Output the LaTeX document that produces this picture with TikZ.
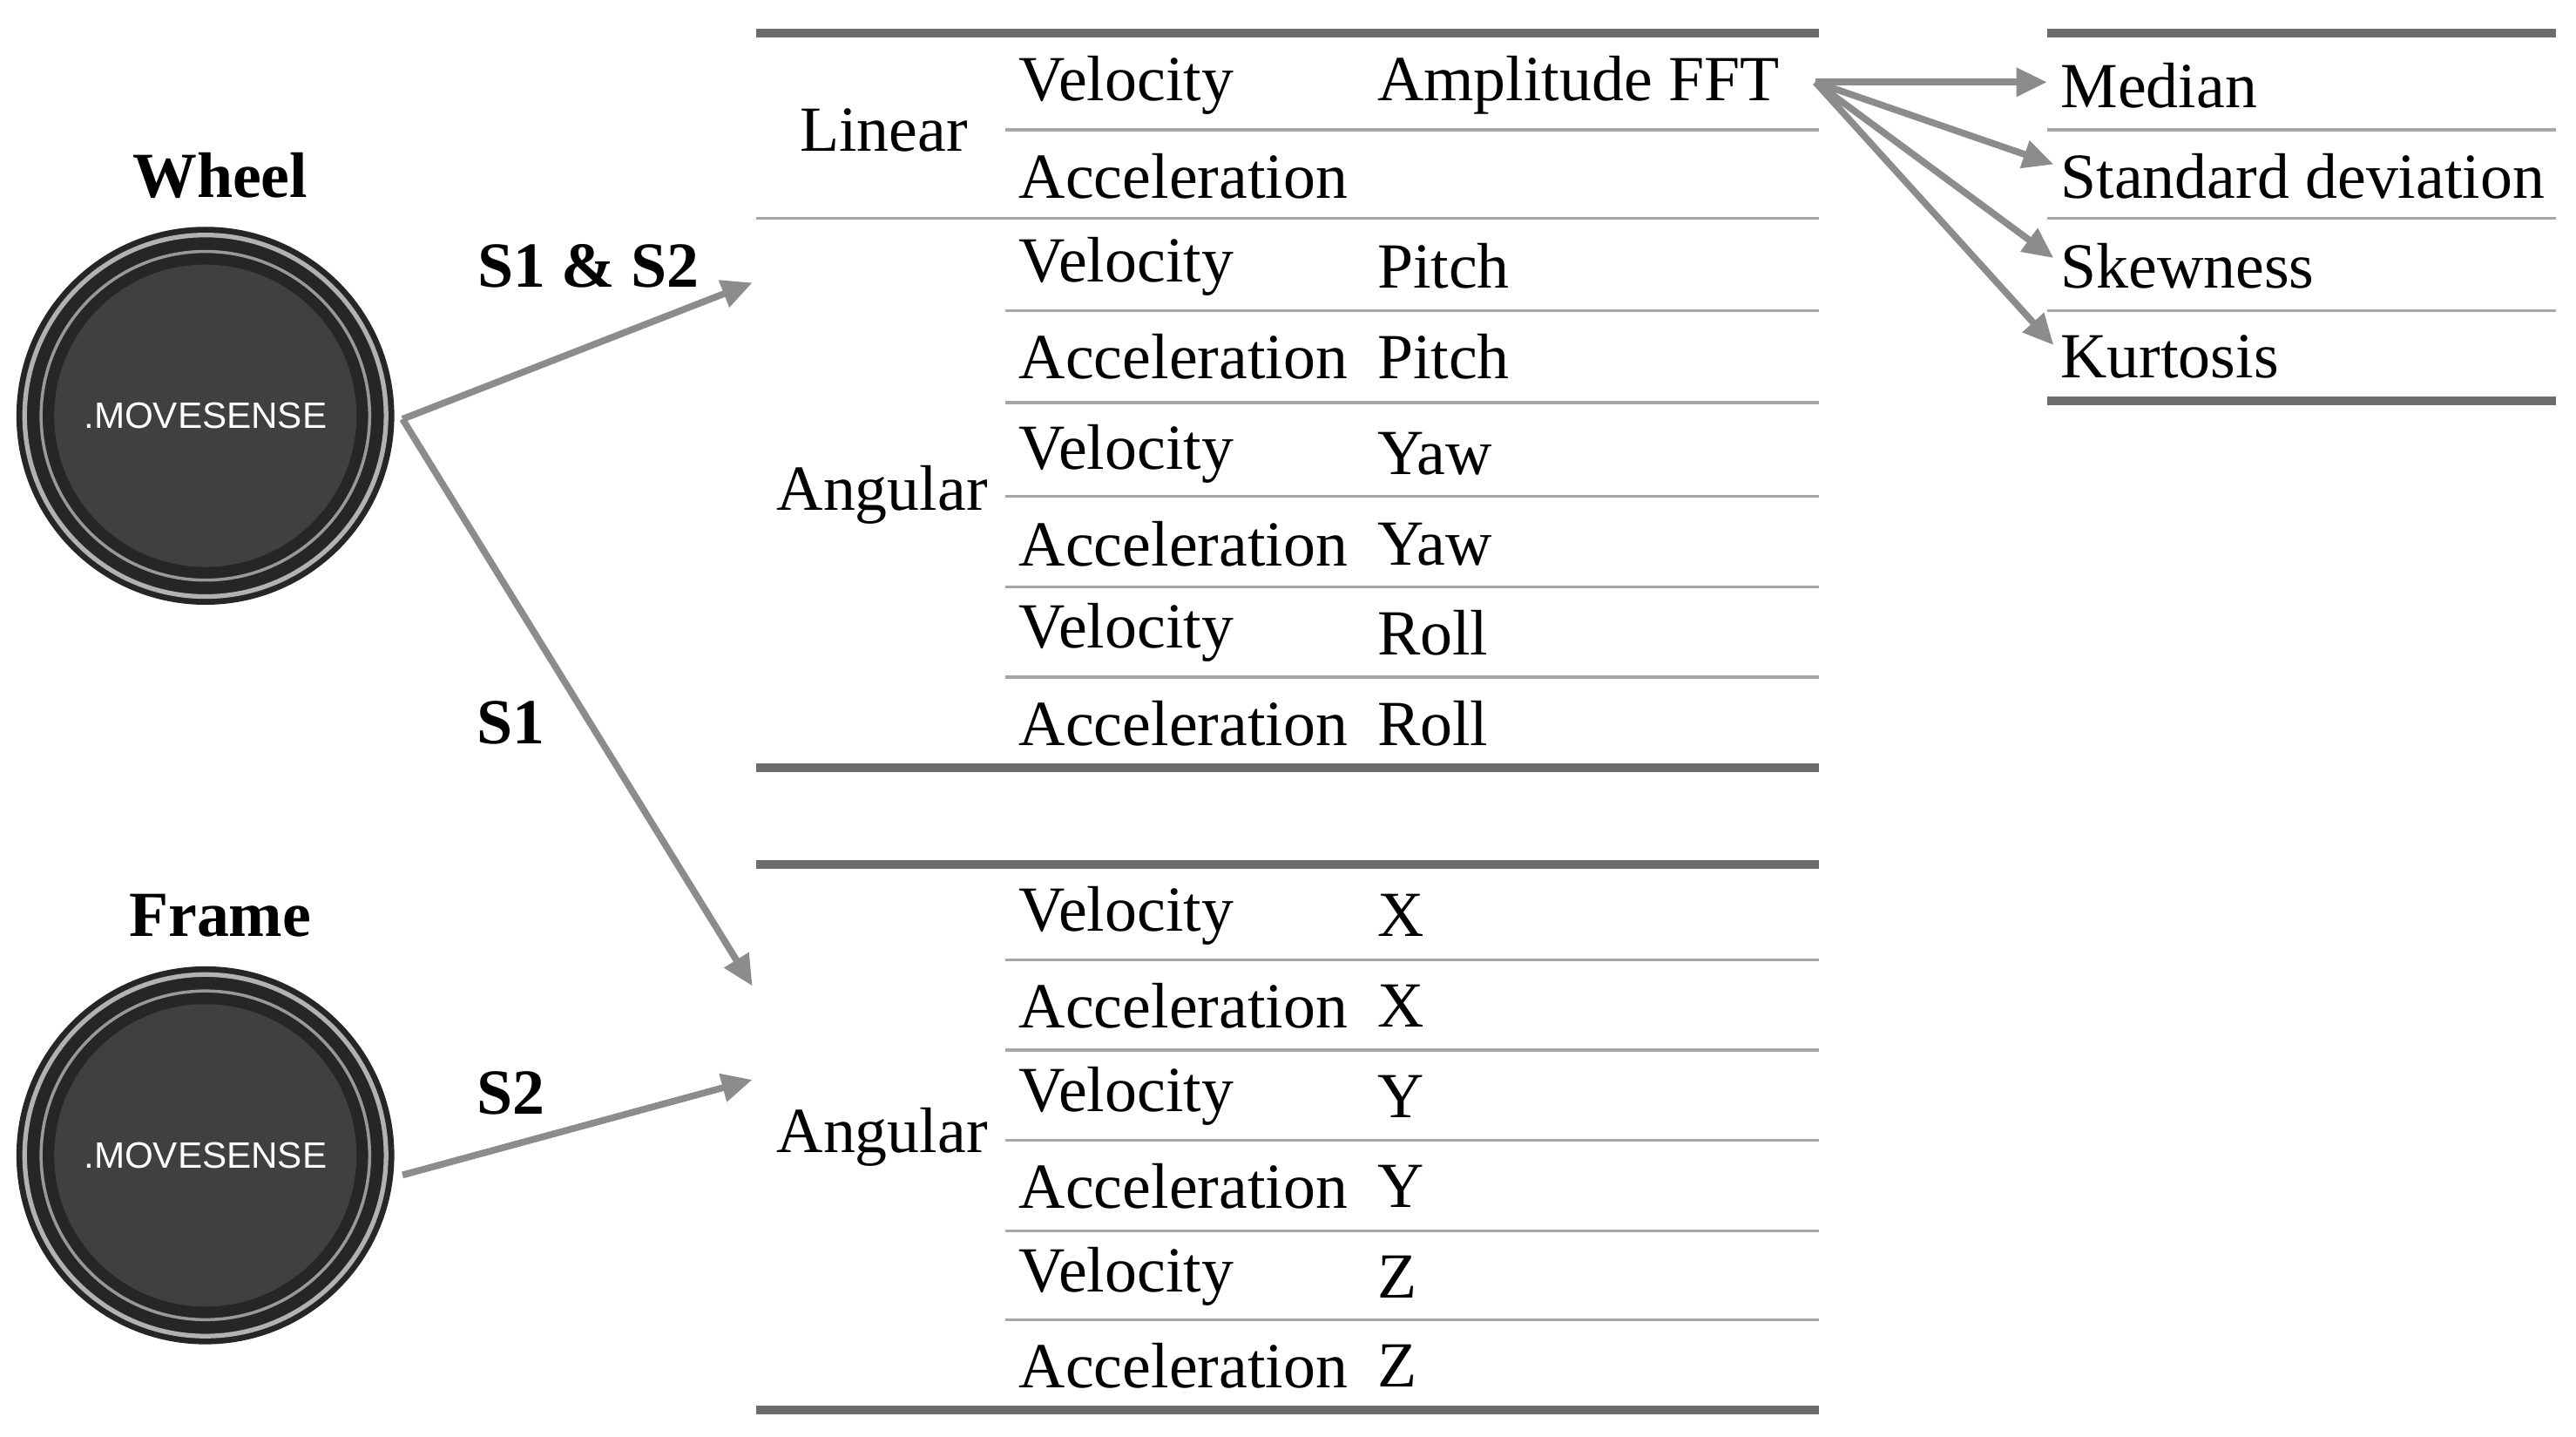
\documentclass[tikz,border=0pt]{standalone}
\usepackage{fontspec}
\setmainfont{Liberation Serif}
\newfontfamily\sensfont{Liberation Sans}
\usetikzlibrary{arrows.meta}
\begin{document}
\begin{tikzpicture}[x=0.01886cm,y=-0.01886cm,
  txt/.style={anchor=west,inner sep=0,font=\fontsize{21}{24}\selectfont},
  ctr/.style={inner sep=0,font=\fontsize{21}{24}\selectfont},
  lbl/.style={inner sep=0,font=\fontsize{21}{24}\selectfont\bfseries},
  thickrule/.style={draw=gray!85!black,line width=2.8pt},
  thinrule/.style={draw=gray!70,line width=0.9pt},
  arr/.style={draw=gray!90,line width=2.2pt,-{Triangle[length=10pt,width=9pt]}}]
\useasboundingbox (0,0) rectangle (1568,874);
% sensors
\foreach \n/\y in {sw/253,sf/703}{
  \fill[black!85] (125,\y) circle (115);
  \draw[gray!60,line width=1.5pt] (125,\y) circle (110);
  \draw[black!40,line width=1pt] (125,\y) circle (100);
  \fill[black!75] (125,\y) circle (92);
  \node[inner sep=0,text=white,font=\sensfont\fontsize{12}{14}\selectfont] (\n) at (125,\y) {.MOVESENSE};
}
\coordinate (w) at (245,255);
\coordinate (f) at (245,715);
\node[lbl] at (134,107) {Wheel};
\node[lbl] at (134,557) {Frame};
\node[lbl] at (358,162) {S1 \& S2};
\node[lbl] at (311,440) {S1};
\node[lbl] at (311,665) {S2};
\coordinate (t1) at (458,172);
\coordinate (t2) at (458,600);
\coordinate (t3) at (458,657);
\draw[arr] (w) -- (t1);
\draw[arr] (w) -- (t2);
\draw[arr] (f) -- (t3);
% table 1
\draw[thickrule] (460,20) -- (1107,20);
\draw[thickrule] (460,467) -- (1107,467);
\draw[thinrule] (612,79) -- (1107,79);
\draw[thinrule] (460,133) -- (1107,133);
\foreach \y in {189,245,302,357,412} \draw[thinrule] (612,\y) -- (1107,\y);
\node[ctr] at (538,79) {Linear};
\node[ctr] at (537,301) {Angular};
\node[txt] at (620,52) {Velocity};
\node[txt] (fft) at (838,52) {Amplitude FFT};
\node[txt] at (620,107) {Acceleration};
\foreach \y/\a/\b in {162/Velocity/Pitch,217/Acceleration/Pitch,276/Velocity/Yaw,331/Acceleration/Yaw,385/Velocity/Roll,440/Acceleration/Roll}{
  \node[txt] at (620,\y) {\a}; \node[txt] at (838,\y) {\b};}
% table 2
\draw[thickrule] (460,526) -- (1107,526);
\draw[thickrule] (460,858) -- (1107,858);
\foreach \y in {584,639,694,749,803} \draw[thinrule] (612,\y) -- (1107,\y);
\node[ctr] at (537,692) {Angular};
\foreach \y/\a/\b in {557/Velocity/X,612/Acceleration/X,667/Velocity/Y,722/Acceleration/Y,777/Velocity/Z,831/Acceleration/Z}{
  \node[txt] at (620,\y) {\a}; \node[txt] at (838,\y) {\b};}
% table 3
\draw[thickrule] (1246,20) -- (1556,20);
\draw[thickrule] (1246,244) -- (1556,244);
\foreach \y in {79,133,189} \draw[thinrule] (1246,\y) -- (1556,\y);
\node[txt] (m1) at (1254,52) {Median};
\node[txt] (m2) at (1254,107) {Standard deviation};
\node[txt] (m3) at (1254,162) {Skewness};
\node[txt] (m4) at (1254,217) {Kurtosis};
\coordinate (o) at (1105,50);
\draw[arr] (o) -- (1246,50);
\draw[arr] (o) -- (1250,100);
\draw[arr] (o) -- (1250,157);
\draw[arr] (o) -- (1250,210);
\end{tikzpicture}
\end{document}
